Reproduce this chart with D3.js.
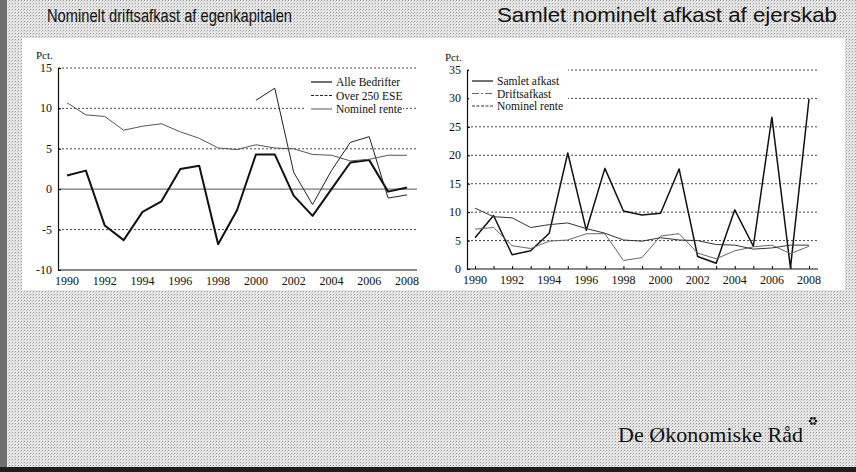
<!DOCTYPE html>
<html>
<head>
<meta charset="utf-8">
<script src="https://cdn.jsdelivr.net/npm/d3@7"></script>
<style>
  body { margin: 0; background: #fff; }
  svg { display: block; }
</style>
</head>
<body>
<div id="chart"></div>
<script>
/* Two line panels: driftsafkast (left) and samlet afkast (right) */

const years = [1990, 1991, 1992, 1993, 1994, 1995, 1996, 1997, 1998, 1999,
               2000, 2001, 2002, 2003, 2004, 2005, 2006, 2007, 2008];

// left panel
const alleBedrifter = [1.7, 2.3, -4.5, -6.3, -2.8, -1.5, 2.5, 2.9, -6.8, -2.6,
                       4.3, 4.3, -0.8, -3.3, 0.0, 3.3, 3.6, -0.3, 0.2];
const over250ESE = [null, null, null, null, null, null, null, null, null, null,
                    11.0, 12.5, 2.1, -1.9, 2.3, 5.8, 6.5, -1.1, -0.7];
const nominelRente = [10.7, 9.2, 9.0, 7.3, 7.8, 8.1, 7.1, 6.3, 5.1, 4.9,
                      5.5, 5.1, 5.0, 4.3, 4.2, 3.5, 3.7, 4.2, 4.2];

// right panel
const samletAfkast = [5.5, 9.4, 2.5, 3.2, 6.3, 20.4, 6.8, 17.7, 10.2, 9.5,
                      9.8, 17.6, 2.2, 1.0, 10.4, 4.0, 26.7, 0.2, 29.9];
const driftsafkast = [7.0, 7.3, 4.1, 3.6, 4.9, 5.1, 6.2, 6.2, 1.5, 2.0,
                      5.8, 6.2, 2.8, 1.8, 3.2, 3.9, 4.2, 2.7, 4.0];

const leftTicks = [-10, -5, 0, 5, 10, 15];
const rightTicks = [0, 5, 10, 15, 20, 25, 30, 35];
const yearLabels = [1990, 1992, 1994, 1996, 1998, 2000, 2002, 2004, 2006, 2008];

const W = 856, H = 472;
const SERIF = '"Liberation Serif", "DejaVu Serif", serif';
const SANS = '"Liberation Sans", Arial, sans-serif';

const svg = d3.select('#chart').append('svg')
  .attr('width', W).attr('height', H);

// dithered grey background
const defs = svg.append('defs');
const pat = defs.append('pattern').attr('id', 'dither')
  .attr('width', 3).attr('height', 3).attr('patternUnits', 'userSpaceOnUse');
pat.append('rect').attr('width', 3).attr('height', 3).attr('fill', '#e6e6e6');
pat.append('rect').attr('x', 0).attr('y', 0).attr('width', 1).attr('height', 1).attr('fill', '#9a9a9a');
pat.append('rect').attr('x', 2).attr('y', 1).attr('width', 1).attr('height', 1).attr('fill', '#c8c8c8');

svg.append('rect').attr('width', W).attr('height', H).attr('fill', 'url(#dither)');
svg.append('rect').attr('x', 0).attr('width', 7).attr('height', H).attr('fill', '#6e6e6e');
svg.append('rect').attr('x', 0).attr('y', 467).attr('width', W).attr('height', 5).attr('fill', '#1e1e1e');

// white sheet behind the charts
svg.append('rect').attr('x', 22).attr('y', 38).attr('width', 823).attr('height', 252).attr('fill', '#fff');

// titles (condensed sans, as on the slide)
svg.append('text').attr('x', 47).attr('y', 22)
  .attr('font-family', SANS).attr('font-size', 18).attr('fill', '#111')
  .attr('textLength', 245).attr('lengthAdjust', 'spacingAndGlyphs')
  .text('Nominelt driftsafkast af egenkapitalen');
svg.append('text').attr('x', 497).attr('y', 22)
  .attr('font-family', SANS).attr('font-size', 21).attr('fill', '#111')
  .attr('textLength', 340).attr('lengthAdjust', 'spacingAndGlyphs')
  .text('Samlet nominelt afkast af ejerskab');

function drawPanel(cfg) {
  const g = svg.append('g');
  const x = d3.scaleLinear().domain([1990, 2008]).range(cfg.xr);
  const y = d3.scaleLinear().domain(cfg.yd).range(cfg.yr);

  // dotted gridlines
  g.append('g').selectAll('line').data(cfg.ticks.filter(t => t !== cfg.yd[0] && t !== 0))
    .join('line')
    .attr('x1', cfg.axisX).attr('x2', cfg.endX)
    .attr('y1', d => y(d)).attr('y2', d => y(d))
    .attr('stroke', '#333').attr('stroke-width', 0.9).attr('stroke-dasharray', '2,2');

  // zero line
  if (cfg.yd[0] < 0) {
    g.append('line').attr('x1', cfg.axisX).attr('x2', cfg.endX)
      .attr('y1', y(0)).attr('y2', y(0))
      .attr('stroke', '#777').attr('stroke-width', 1.2);
  }

  // axes
  const yAxis = d3.axisRight(y).tickValues(cfg.ticks).tickSize(3).tickFormat('');
  g.append('g').attr('transform', `translate(${cfg.axisX},0)`).call(yAxis)
    .call(a => a.select('.domain').attr('stroke', '#111').attr('stroke-width', 1.2));

  const xAxis = d3.axisTop(x).tickValues(cfg.xTicks).tickSize(3).tickFormat('').tickSizeOuter(0);
  g.append('g').attr('transform', `translate(0,${y(cfg.yd[0])})`).call(xAxis)
    .call(a => a.select('.domain').attr('d', `M${cfg.axisX},0H${cfg.endX}`)
      .attr('stroke', '#111').attr('stroke-width', 1.2));

  // tick labels
  g.append('g').selectAll('text').data(cfg.ticks).join('text')
    .attr('x', cfg.axisX - 6).attr('y', d => y(d) + 4)
    .attr('text-anchor', 'end')
    .attr('font-family', SERIF).attr('font-size', 12).attr('fill', '#111')
    .text(d => d);
  g.append('g').selectAll('text').data(yearLabels).join('text')
    .attr('x', d => x(d)).attr('y', y(cfg.yd[0]) + 15)
    .attr('text-anchor', 'middle')
    .attr('font-family', SERIF).attr('font-size', 12).attr('fill', '#111')
    .text(d => d);
  g.append('text').attr('x', cfg.axisX - 22).attr('y', y(cfg.yd[1]) - 9)
    .attr('font-family', SERIF).attr('font-size', 11).attr('fill', '#111')
    .text('Pct.');

  // legend (white box hides grid behind it)
  const lg = cfg.legend;
  g.append('rect').attr('x', lg.box[0]).attr('y', lg.box[1])
    .attr('width', lg.box[2]).attr('height', lg.box[3]).attr('fill', '#fff');

  const line = d3.line()
    .defined(d => d[1] != null)
    .x(d => x(d[0])).y(d => y(d[1]));

  cfg.series.forEach((s, i) => {
    g.append('path')
      .attr('d', line(years.map((yr, k) => [yr, s.values[k]])))
      .attr('fill', 'none').attr('stroke', s.color).attr('stroke-width', s.width)
      .attr('stroke-dasharray', s.dash || null)
      .attr('stroke-linejoin', 'round');

    const ly = lg.y0 + i * lg.dy;
    g.append('line').attr('x1', lg.x).attr('x2', lg.x + lg.len)
      .attr('y1', ly).attr('y2', ly)
      .attr('stroke', s.color).attr('stroke-width', Math.min(s.width, 1.2))
      .attr('stroke-dasharray', s.legendDash || s.dash || null);
    g.append('text').attr('x', lg.x + lg.len + 4).attr('y', ly + 4)
      .attr('font-family', SERIF).attr('font-size', 11.5).attr('fill', '#111')
      .text(s.name);
  });
}

drawPanel({
  xr: [67, 407], axisX: 58, endX: 417,
  yd: [-10, 15], yr: [270, 68], ticks: leftTicks, xTicks: [],
  legend: { box: [305, 74, 98, 40], x: 311, y0: 82, dy: 13.5, len: 21 },
  series: [
    { name: 'Alle Bedrifter', values: alleBedrifter, color: '#111', width: 2 },
    { name: 'Over 250 ESE', values: over250ESE, color: '#222', width: 1, legendDash: '3,1.5' },
    { name: 'Nominel rente', values: nominelRente, color: '#555', width: 1 }
  ]
});

drawPanel({
  xr: [475, 809], axisX: 467, endX: 818,
  yd: [0, 35], yr: [269, 70], ticks: rightTicks, xTicks: years,
  legend: { box: [469, 64, 99, 49], x: 472, y0: 81, dy: 12.5, len: 21 },
  series: [
    { name: 'Samlet afkast', values: samletAfkast, color: '#111', width: 1.5 },
    { name: 'Driftsafkast', values: driftsafkast, color: '#666', width: 1, legendDash: '7,2,2,2' },
    { name: 'Nominel rente', values: nominelRente, color: '#333', width: 1, legendDash: '3,1.5' }
  ]
});

// footer logo text
svg.append('text').attr('x', 618).attr('y', 442)
  .attr('font-family', SERIF).attr('font-size', 21).attr('fill', '#111')
  .attr('textLength', 185).attr('lengthAdjust', 'spacingAndGlyphs')
  .text('De Økonomiske Råd');
const logo = svg.append('g').attr('transform', 'translate(813,421)');
logo.selectAll('circle').data([0, 60, 120, 180, 240, 300]).join('circle')
  .attr('cx', d => 3 * Math.cos(d * Math.PI / 180))
  .attr('cy', d => 3 * Math.sin(d * Math.PI / 180))
  .attr('r', 1.3).attr('fill', '#111');
</script>
</body>
</html>
